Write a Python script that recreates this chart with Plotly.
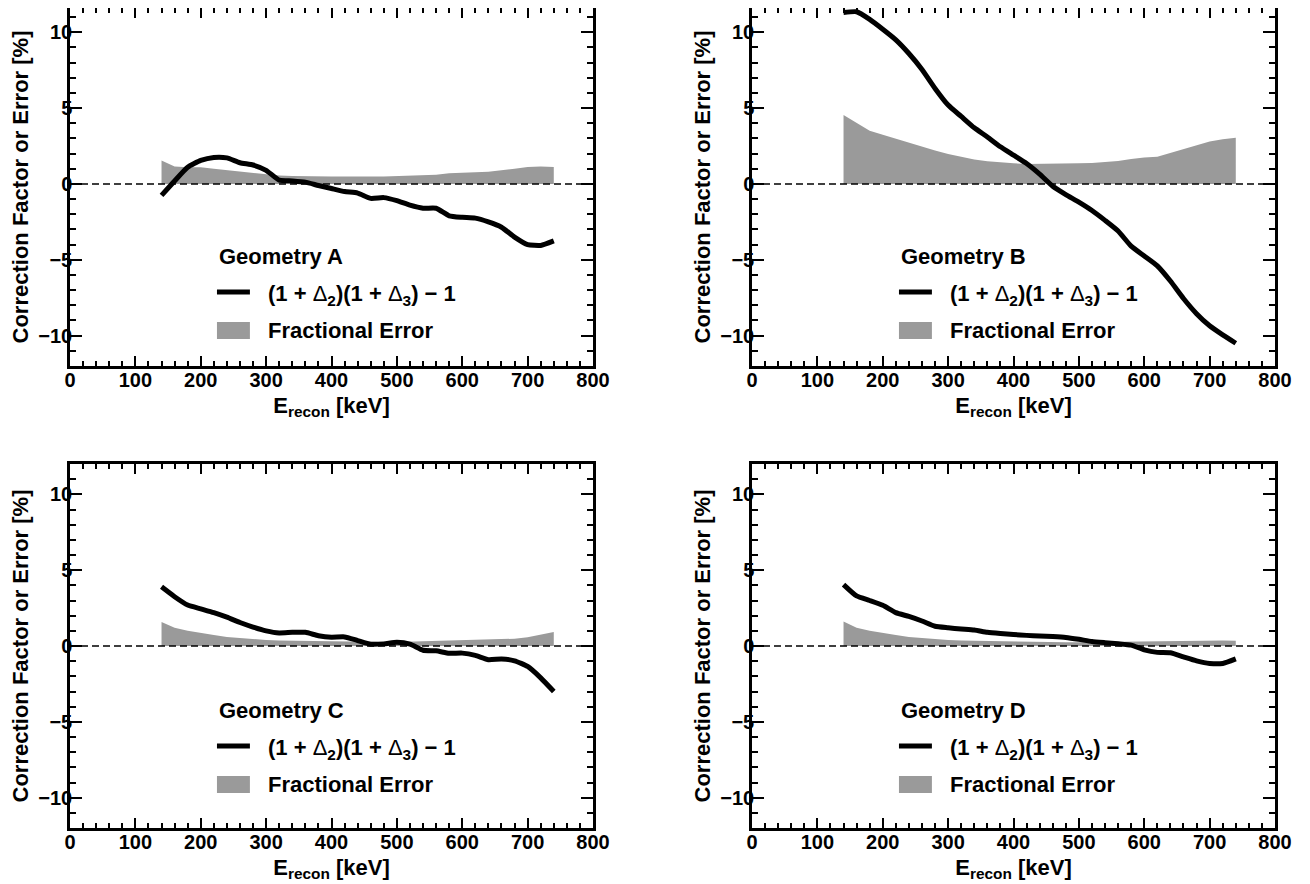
import plotly.graph_objects as go

# ---------------- data ----------------
energy_kev = [140, 160, 180, 200, 220, 240, 260, 280, 300, 320, 340, 360, 380, 400, 420,
              440, 460, 480, 500, 520, 540, 560, 580, 600, 620, 640, 660, 680, 700, 720, 740]

geometry_names = ["Geometry A", "Geometry B", "Geometry C", "Geometry D"]

corr_A = [-0.75, 0.2, 1.1, 1.55, 1.75, 1.72, 1.4, 1.25, 0.9, 0.25, 0.2, 0.12, -0.1, -0.3, -0.5,
          -0.6, -0.95, -0.9, -1.1, -1.4, -1.6, -1.6, -2.1, -2.2, -2.25, -2.5, -2.85, -3.5, -4.0, -4.05, -3.75]
err_A = [1.55, 1.15, 1.1, 1.1, 1.0, 0.9, 0.8, 0.7, 0.62, 0.55, 0.52, 0.5, 0.48, 0.5, 0.5,
         0.48, 0.5, 0.5, 0.52, 0.55, 0.6, 0.6, 0.7, 0.75, 0.78, 0.8, 0.88, 1.0, 1.12, 1.15, 1.12]

corr_B = [11.3, 11.35, 10.85, 10.2, 9.5, 8.6, 7.55, 6.3, 5.2, 4.45, 3.7, 3.1, 2.45, 1.9, 1.35,
          0.65, -0.15, -0.7, -1.2, -1.75, -2.4, -3.1, -4.1, -4.75, -5.4, -6.4, -7.55, -8.55, -9.35, -9.95, -10.5]
err_B = [4.55, 4.0, 3.5, 3.25, 2.98, 2.7, 2.45, 2.2, 1.98, 1.78, 1.62, 1.5, 1.42, 1.36, 1.32,
         1.32, 1.33, 1.34, 1.36, 1.38, 1.45, 1.52, 1.65, 1.75, 1.8, 2.05, 2.3, 2.55, 2.8, 2.95, 3.05]

corr_C = [3.9, 3.25, 2.7, 2.45, 2.2, 1.9, 1.55, 1.25, 1.0, 0.86, 0.9, 0.9, 0.68, 0.58, 0.6,
          0.36, 0.12, 0.14, 0.24, 0.12, -0.28, -0.32, -0.48, -0.47, -0.62, -0.9, -0.85, -0.98, -1.35, -2.1, -3.0]
err_C = [1.58, 1.2, 1.0, 0.85, 0.72, 0.6, 0.52, 0.45, 0.4, 0.37, 0.35, 0.33, 0.31, 0.29, 0.27,
         0.26, 0.26, 0.26, 0.27, 0.29, 0.31, 0.33, 0.35, 0.36, 0.38, 0.41, 0.43, 0.48, 0.58, 0.75, 0.93]

corr_D = [4.05, 3.3, 3.0, 2.68, 2.2, 1.95, 1.65, 1.3, 1.2, 1.12, 1.05, 0.9, 0.82, 0.76, 0.7,
          0.66, 0.62, 0.56, 0.44, 0.3, 0.22, 0.15, 0.06, -0.25, -0.42, -0.45, -0.72, -0.98, -1.15, -1.15, -0.85]
err_D = [1.62, 1.2, 1.0, 0.85, 0.72, 0.6, 0.52, 0.45, 0.4, 0.37, 0.35, 0.33, 0.31, 0.29, 0.27,
         0.26, 0.25, 0.24, 0.25, 0.26, 0.27, 0.28, 0.3, 0.31, 0.31, 0.32, 0.34, 0.36, 0.38, 0.37, 0.35]

x_range = [0, 800]
# the top row loses its top sliver to the page margin; keep the same px-per-unit scale
y_ranges = [[-12, 11.6], [-12, 11.6], [-12, 12], [-12, 12]]
x_tickvals = [0, 100, 200, 300, 400, 500, 600, 700, 800]
y_tickvals = [-10, -5, 0, 5, 10]

line_label = "(1 + <span style='font-weight:normal'>Δ</span><sub>2</sub>)(1 + <span style='font-weight:normal'>Δ</span><sub>3</sub>) − 1"
fill_label = "Fractional Error"
x_title = "<b>E<sub>recon</sub> [keV]</b>"
y_title = "<b>Correction Factor or Error [%]</b>"

corrections = [corr_A, corr_B, corr_C, corr_D]
errors = [err_A, err_B, err_C, err_D]

# ---------------- layout helpers ----------------
# the page body has an 8px margin, so the figure is drawn 8px in from the corner
W, H = 1302, 876
FONT = "Liberation Sans, Arial, Helvetica, sans-serif"
GRAY = "#9a9a9a"

# panel frames in figure pixels (left, right, top, bottom)
frames = [(62, 585, 0, 358), (744, 1267, 0, 358),
          (62, 585, 456, 820), (744, 1267, 456, 820)]

fig = go.Figure()
layout = dict(width=W, height=H, margin=dict(l=0, r=0, t=0, b=0, autoexpand=False),
              paper_bgcolor="white", plot_bgcolor="white", showlegend=False,
              font=dict(family=FONT, color="black", size=20))
annotations = []
shapes = []

for i in range(4):
    n = "" if i == 0 else str(i + 1)
    xa, ya = "x" + n, "y" + n
    l, r, t, b = frames[i]
    xdom = [l / W, r / W]
    ydom = [1 - b / H, 1 - t / H]

    # fractional error band
    fig.add_trace(go.Scatter(x=energy_kev, y=errors[i], xaxis=xa, yaxis=ya,
                             mode="lines", fill="tozeroy", fillcolor=GRAY,
                             line=dict(width=0, color=GRAY), hoverinfo="skip"))
    # zero reference line
    fig.add_trace(go.Scatter(x=x_range, y=[0, 0], xaxis=xa, yaxis=ya, mode="lines",
                             line=dict(color="black", width=1.5, dash="7px,4px"),
                             hoverinfo="skip"))
    # correction curve
    fig.add_trace(go.Scatter(x=energy_kev, y=corrections[i], xaxis=xa, yaxis=ya,
                             mode="lines", line=dict(color="black", width=5,
                                                     shape="spline", smoothing=0.5)))

    axis_common = dict(showline=True, linecolor="black", linewidth=2.5, mirror="ticks",
                       ticks="inside", tickcolor="black", tickwidth=1.5,
                       showgrid=False, zeroline=False, automargin=False,
                       tickfont=dict(family=FONT, size=20, color="black", weight="bold"))
    layout["xaxis" + n] = dict(axis_common, domain=xdom, range=x_range, anchor=ya,
                               tickvals=x_tickvals, ticklen=10, ticklabelstandoff=-6,
                               minor=dict(dtick=20, tick0=0, ticks="inside", ticklen=5,
                                          tickwidth=1.5, tickcolor="black"),
                               title=dict(text=x_title, standoff=8,
                                          font=dict(family=FONT, size=22, color="black")))
    layout["yaxis" + n] = dict(axis_common, domain=ydom, range=y_ranges[i], anchor=xa,
                               tickvals=y_tickvals, ticklen=12, ticklabelstandoff=-9,
                               minor=dict(dtick=1, tick0=0, ticks="inside", ticklen=6,
                                          tickwidth=1.5, tickcolor="black"),
                               title=dict(text=y_title, standoff=4,
                                          font=dict(family=FONT, size=22, color="black")))

    xd, yd = xa + " domain", ya + " domain"
    fw = dict(family=FONT, size=22, color="black", weight="bold")
    # legend block anchored in pixels from the frame's top-left corner
    ph = b - t
    def fy(py):
        return 1 - py / ph
    top_off = 2 if i < 2 else 0  # reference frame top sits 2px above page content in top row
    annotations.append(dict(text=geometry_names[i], xref=xd, yref=yd, x=0.281, y=fy(256 - 8 + top_off - 2),
                            xanchor="left", yanchor="middle", showarrow=False, font=fw))
    annotations.append(dict(text=line_label, xref=xd, yref=yd, x=0.375, y=fy(295 - 8 + top_off - 2),
                            xanchor="left", yanchor="middle", showarrow=False, font=fw))
    annotations.append(dict(text=fill_label, xref=xd, yref=yd, x=0.375, y=fy(330 - 8 + top_off - 2),
                            xanchor="left", yanchor="middle", showarrow=False, font=fw))
    shapes.append(dict(type="line", xref=xd, yref=yd, x0=0.281, x1=0.344,
                       y0=fy(292 - 8 + top_off - 2), y1=fy(292 - 8 + top_off - 2),
                       line=dict(color="black", width=5)))
    shapes.append(dict(type="rect", xref=xd, yref=yd, x0=0.281, x1=0.344,
                       y0=fy(339 - 8 + top_off - 2), y1=fy(322 - 8 + top_off - 2),
                       fillcolor=GRAY, line=dict(width=0)))

layout["annotations"] = annotations
layout["shapes"] = shapes
fig.update_layout(**layout)

fig.write_html("out.html")
